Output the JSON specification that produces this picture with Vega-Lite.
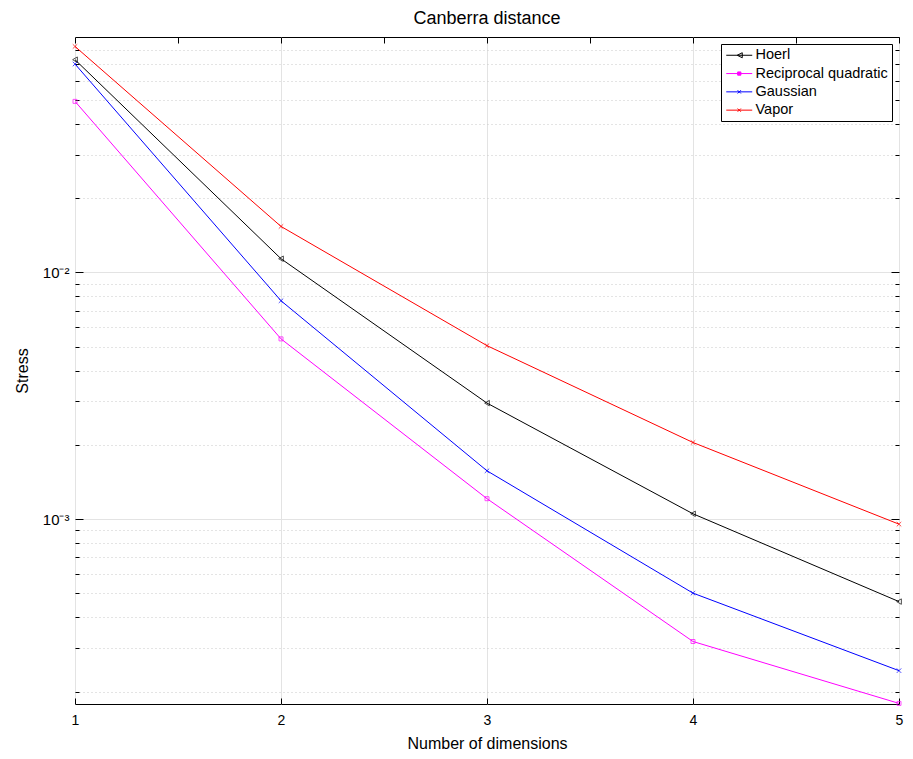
{
  "$schema": "https://vega.github.io/schema/vega-lite/v6.json",
  "autosize": {"type": "none"},
  "width": 824,
  "height": 667,
  "padding": {"left": 75, "top": 37, "right": 14, "bottom": 55},
  "background": "white",
  "config": {
    "font": "Liberation Sans",
    "view": {"stroke": "#000000", "strokeWidth": 1},
    "axis": {"labelFont": "Liberation Sans", "titleFont": "Liberation Sans", "labelColor": "#000", "titleColor": "#000", "titleFontWeight": "normal", "domainColor": "#000", "tickColor": "#000"}
  },
  "title": {"text": "Canberra distance", "fontSize": 18, "fontWeight": "normal", "font": "Liberation Sans", "offset": 9, "color": "#000"},
  "data": {
    "values": [
      {"dim": 1, "series": "Hoerl", "stress": 0.0729},
      {"dim": 2, "series": "Hoerl", "stress": 0.01137},
      {"dim": 3, "series": "Hoerl", "stress": 0.002954},
      {"dim": 4, "series": "Hoerl", "stress": 0.001051},
      {"dim": 5, "series": "Hoerl", "stress": 0.000463},
      {"dim": 1, "series": "Reciprocal quadratic", "stress": 0.0494},
      {"dim": 2, "series": "Reciprocal quadratic", "stress": 0.00538},
      {"dim": 3, "series": "Reciprocal quadratic", "stress": 0.00121},
      {"dim": 4, "series": "Reciprocal quadratic", "stress": 0.000319},
      {"dim": 5, "series": "Reciprocal quadratic", "stress": 0.000179},
      {"dim": 1, "series": "Gaussian", "stress": 0.0700},
      {"dim": 2, "series": "Gaussian", "stress": 0.00768},
      {"dim": 3, "series": "Gaussian", "stress": 0.00157},
      {"dim": 4, "series": "Gaussian", "stress": 0.000501},
      {"dim": 5, "series": "Gaussian", "stress": 0.000243},
      {"dim": 1, "series": "Vapor", "stress": 0.0825},
      {"dim": 2, "series": "Vapor", "stress": 0.01537},
      {"dim": 3, "series": "Vapor", "stress": 0.00505},
      {"dim": 4, "series": "Vapor", "stress": 0.002045},
      {"dim": 5, "series": "Vapor", "stress": 0.000954}
    ]
  },
  "resolve": {"scale": {"x": "shared", "y": "shared", "color": "shared"}, "axis": {"x": "independent", "y": "independent"}},
  "layer": [
    {
      "mark": {"type": "line", "strokeWidth": 1, "clip": true},
      "encoding": {
        "x": {"field": "dim", "type": "quantitative", "scale": {"domain": [1, 5], "nice": false, "zero": false},
          "axis": {"orient": "bottom", "title": "Number of dimensions", "titleFontSize": 16, "titlePadding": 8, "labelFontSize": 14, "values": [1, 1.5, 2, 2.5, 3, 3.5, 4, 4.5, 5], "format": "d", "labelFlush": false, "labelExpr": "datum.value % 1 == 0 ? datum.label : ''", "grid": true, "gridColor": "#e3e3e3", "gridWidth": 1, "tickSize": -6, "labelPadding": 15, "domain": false}},
        "y": {"field": "stress", "type": "quantitative", "scale": {"type": "log", "domain": [0.000178, 0.0901], "nice": false},
          "axis": {"orient": "left", "title": "Stress", "titleFontSize": 16, "titlePadding": 12, "labelFontSize": 15, "values": [0.001, 0.01], "labelFlush": false, "labelExpr": "datum.value > 0.005 ? '10⁻²' : '10⁻³'", "grid": true, "gridColor": "#e3e3e3", "gridWidth": 1, "tickSize": -8, "labelPadding": 14, "domain": false}},
        "color": {"field": "series", "type": "nominal",
          "scale": {"domain": ["Hoerl", "Reciprocal quadratic", "Gaussian", "Vapor"], "range": ["#000000", "#ff00ff", "#0000ff", "#ff0000"]},
          "legend": {"title": null, "orient": "top-right", "offset": 7, "fillColor": "white", "strokeColor": "#000", "padding": 4, "labelFontSize": 14.5, "labelFont": "Liberation Sans", "labelColor": "#000", "symbolSize": 144, "symbolStrokeWidth": 1, "labelOffset": 16, "rowPadding": 3.3,
            "encode": {"symbols": {"update": {
              "shape": {"signal": "datum.value == 'Hoerl' ? 'M-1,0L3.33,0M1.67,-0.42L0.83,0L1.67,0.42Z' : datum.value == 'Reciprocal quadratic' ? 'M-1,0L3.33,0M0.9,-0.27L1.44,-0.27L1.44,0.27L0.9,0.27Z' : 'M-1,0L3.33,0M0.9,-0.27L1.44,0.27M0.9,0.27L1.44,-0.27'"},
              "fill": {"signal": "datum.value == 'Reciprocal quadratic' ? '#ff00ff' : 'transparent'"},
              "stroke": {"signal": "datum.value == 'Hoerl' ? '#000000' : datum.value == 'Reciprocal quadratic' ? '#ff00ff' : datum.value == 'Gaussian' ? '#0000ff' : '#ff0000'"},
              "opacity": {"value": 1}
            }}}}
        }
      }
    },
    {
      "transform": [{"filter": "datum.series == 'Hoerl'"}],
      "mark": {"type": "point", "shape": "triangle-left", "filled": false, "strokeWidth": 1, "size": 30, "clip": false},
      "encoding": {
        "x": {"field": "dim", "type": "quantitative", "axis": {"orient": "top", "title": null, "labels": false, "values": [1, 1.5, 2, 2.5, 3, 3.5, 4, 4.5, 5], "grid": false, "tickSize": -6, "domain": false}},
        "y": {"field": "stress", "type": "quantitative", "axis": {"orient": "left", "title": null, "labels": false, "values": [0.0002, 0.0003, 0.0004, 0.0005, 0.0006, 0.0007, 0.0008, 0.0009, 0.002, 0.003, 0.004, 0.005, 0.006, 0.007, 0.008, 0.009, 0.02, 0.03, 0.04, 0.05, 0.06, 0.07, 0.08], "grid": true, "gridColor": "#c8c8c8", "gridDash": [1, 3], "gridWidth": 1, "tickSize": -4, "domain": false}},
        "color": {"field": "series", "type": "nominal", "legend": null}
      }
    },
    {
      "transform": [{"filter": "datum.series == 'Reciprocal quadratic'"}],
      "mark": {"type": "point", "shape": "square", "filled": false, "strokeWidth": 1, "size": 16, "clip": false},
      "encoding": {
        "x": {"field": "dim", "type": "quantitative", "axis": null},
        "y": {"field": "stress", "type": "quantitative", "axis": {"orient": "right", "title": null, "labels": false, "values": [0.001, 0.01], "grid": false, "tickSize": -8, "domain": false}},
        "color": {"field": "series", "type": "nominal", "legend": null}
      }
    },
    {
      "transform": [{"filter": "datum.series == 'Gaussian' || datum.series == 'Vapor'"}],
      "mark": {"type": "point", "shape": "M-1,-1L1,1M-1,1L1,-1", "filled": false, "strokeWidth": 1, "size": 20, "clip": false},
      "encoding": {
        "x": {"field": "dim", "type": "quantitative", "axis": null},
        "y": {"field": "stress", "type": "quantitative", "axis": {"orient": "right", "title": null, "labels": false, "values": [0.0002, 0.0003, 0.0004, 0.0005, 0.0006, 0.0007, 0.0008, 0.0009, 0.002, 0.003, 0.004, 0.005, 0.006, 0.007, 0.008, 0.009, 0.02, 0.03, 0.04, 0.05, 0.06, 0.07, 0.08, 0.09], "grid": false, "tickSize": -4, "domain": false}},
        "color": {"field": "series", "type": "nominal", "legend": null}
      }
    }
  ]
}
